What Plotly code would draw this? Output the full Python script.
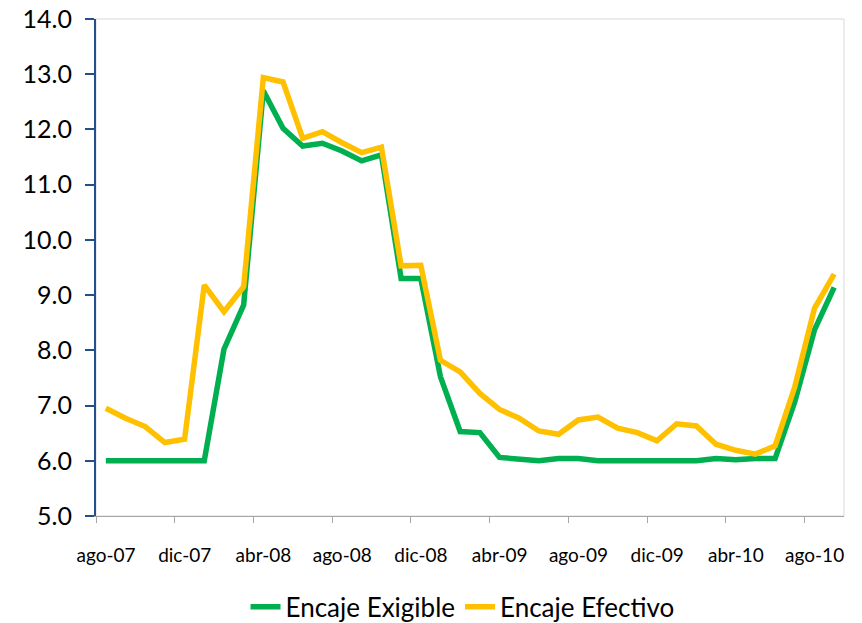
import plotly.graph_objects as go

# Monthly reserve requirement series, Aug 2007 - Sep 2010 (%)
months = [
    "ago-07", "sep-07", "oct-07", "nov-07", "dic-07", "ene-08", "feb-08", "mar-08",
    "abr-08", "may-08", "jun-08", "jul-08", "ago-08", "sep-08", "oct-08", "nov-08",
    "dic-08", "ene-09", "feb-09", "mar-09", "abr-09", "may-09", "jun-09", "jul-09",
    "ago-09", "sep-09", "oct-09", "nov-09", "dic-09", "ene-10", "feb-10", "mar-10",
    "abr-10", "may-10", "jun-10", "jul-10", "ago-10", "sep-10",
]
encaje_exigible = [
    6.00, 6.00, 6.00, 6.00, 6.00, 6.00, 8.02, 8.82,
    12.70, 12.02, 11.70, 11.75, 11.61, 11.43, 11.54, 9.30,
    9.30, 7.52, 6.53, 6.51, 6.06, 6.03, 6.00, 6.04,
    6.04, 6.00, 6.00, 6.00, 6.00, 6.00, 6.00, 6.04,
    6.02, 6.04, 6.04, 7.07, 8.37, 9.14,
]
encaje_efectivo = [
    6.95, 6.77, 6.62, 6.33, 6.39, 9.18, 8.70, 9.15,
    12.94, 12.86, 11.84, 11.96, 11.76, 11.58, 11.68, 9.53,
    9.54, 7.82, 7.61, 7.22, 6.93, 6.77, 6.54, 6.48,
    6.74, 6.79, 6.59, 6.51, 6.36, 6.67, 6.63, 6.30,
    6.19, 6.12, 6.27, 7.34, 8.76, 9.38,
]
tick_labels = months[::4]

x = list(range(len(months)))
FONT = "Lato"

fig = go.Figure()
fig.add_trace(go.Scatter(
    x=x, y=encaje_exigible, mode="lines", name="Encaje Exigible",
    line=dict(color="#00B050", width=5.5),
))
fig.add_trace(go.Scatter(
    x=x, y=encaje_efectivo, mode="lines", name="Encaje Efectivo",
    line=dict(color="#FFC000", width=5.5),
))

# ticks sit on category boundaries, labels centred on the category
tick_pos = [i - 0.5 for i in range(0, len(months), 4)]

fig.update_layout(
    width=862, height=623,
    margin=dict(l=96, r=18, t=19, b=107, autoexpand=False),
    paper_bgcolor="white", plot_bgcolor="white",
    font=dict(family=FONT, color="black"),
    showlegend=True,
    legend=dict(
        orientation="h", x=0.49, xanchor="center", y=-0.183, yanchor="middle",
        font=dict(size=26, family=FONT, color="black"),
        itemwidth=30, tracegroupgap=0,
    ),
    xaxis=dict(
        range=[-0.5, len(months) - 0.5],
        tickmode="array", tickvals=tick_pos, ticktext=tick_labels,
        ticklabelshift=10, ticklabelstandoff=16,
        ticks="outside", ticklen=6, tickcolor="#A6A6A6", tickwidth=1,
        showline=True, linecolor="#A6A6A6", linewidth=1,
        showgrid=False, zeroline=False,
        tickfont=dict(size=19, family=FONT, color="black"),
    ),
    yaxis=dict(
        range=[5, 14], dtick=1, tick0=5, tickformat=".1f",
        ticks="outside", ticklen=9, tickcolor="#254E8C", tickwidth=2,
        showline=True, linecolor="#254E8C", linewidth=2,
        showgrid=False, zeroline=False,
        tickfont=dict(size=25, family=FONT, color="black"),
        ticklabelstandoff=8,
    ),
    shapes=[
        dict(type="rect", xref="paper", yref="paper", x0=0, x1=1, y0=0, y1=1,
             line=dict(color="#D9D9D9", width=1), layer="below"),
    ],
)

fig.write_html("out.html")
